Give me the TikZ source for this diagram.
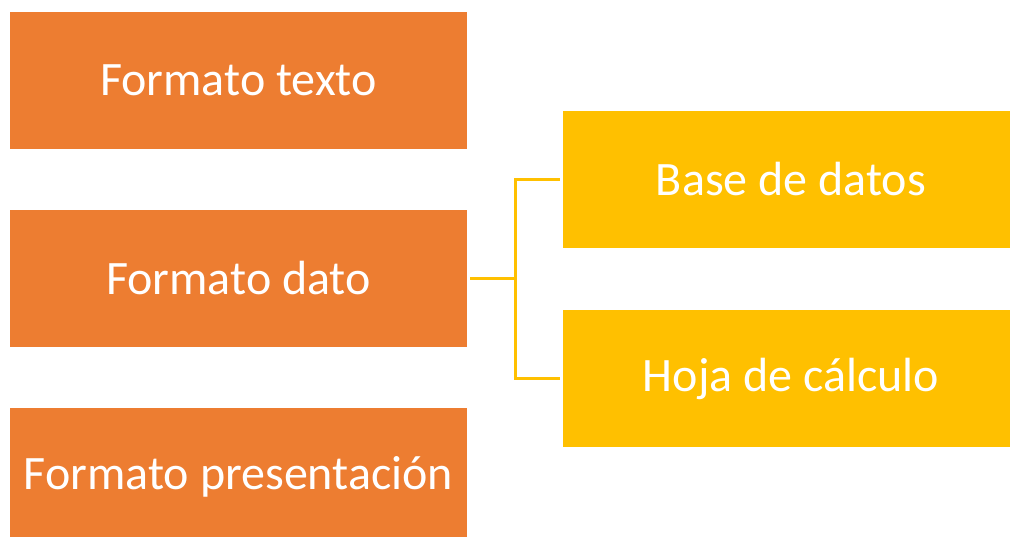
\documentclass[tikz,border=0pt]{standalone}
\usepackage{fontspec}
\setmainfont{Carlito}
\definecolor{orng}{HTML}{ED7D31}
\definecolor{yllw}{HTML}{FFC000}
\begin{document}
\begin{tikzpicture}[x=1pt,y=-1pt,
  obox/.style={fill=orng,draw=none,minimum width=457pt,minimum height=137pt,inner sep=0pt,text=white,font=\fontsize{48}{52}\selectfont},
  ybox/.style={fill=yllw,draw=none,minimum width=456pt,minimum height=137pt,inner sep=0pt,text=white,font=\fontsize{48}{52}\selectfont},
  conn/.style={draw=yllw,line width=3pt}]
\useasboundingbox (0,0) rectangle (1010,537);
\clip (0,0) rectangle (1010,537);
\node[obox] (ft) at (238.5,80.5) {Formato texto};
\node[obox] (fd) at (238.5,278.5) {Formato dato};
\node[obox] (fp) at (238.5,476.5) {Formato presentación};
\node[ybox] (bd) at (791,179.5) {Base de datos};
\node[ybox] (hc) at (791,378.5) {Hoja de cálculo};
\coordinate (s) at ([xshift=3pt]fd.east);
\coordinate (j) at (515,278.5);
\draw[conn] (s) -- (j);
\draw[conn] (j) |- ([xshift=-3pt]bd.west);
\draw[conn] (j) |- ([xshift=-3pt]hc.west);
\end{tikzpicture}
\end{document}
